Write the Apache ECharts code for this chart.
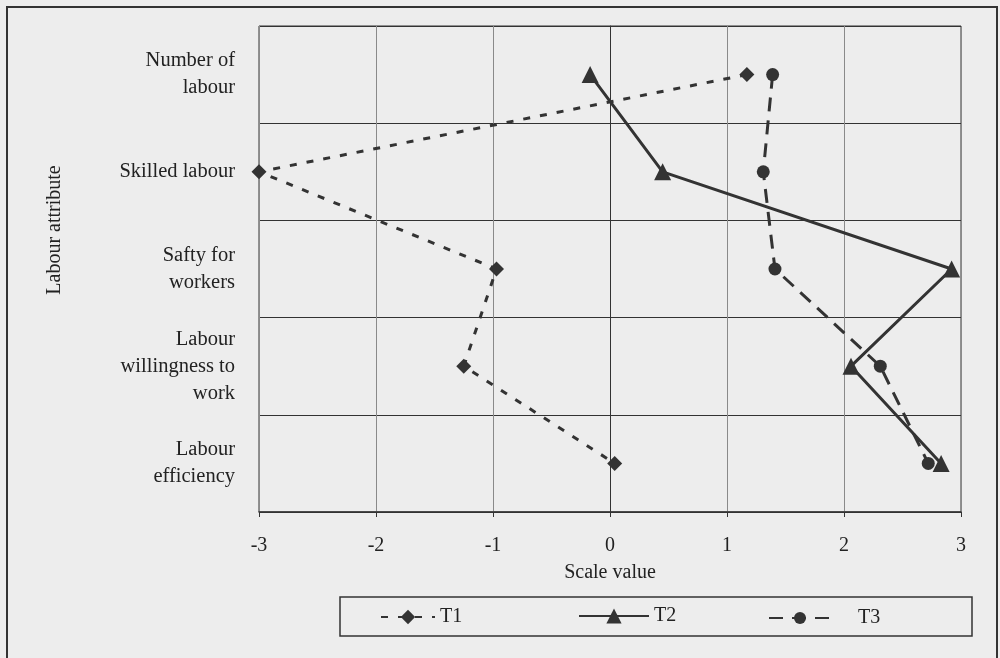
<!DOCTYPE html>
<html><head><meta charset="utf-8">
<script src="https://cdn.jsdelivr.net/npm/echarts@6/dist/echarts.min.js"></script>
<style>html,body{margin:0;padding:0;background:#ededed}#c{width:1000px;height:658px}</style>
</head><body><div id="c"></div>
<script>
const categories = ["Number of\nlabour", "Skilled labour", "Safty for\nworkers", "Labour\nwillingness to\nwork", "Labour\nefficiency"];
const t1 = [1.17, -3.0, -0.97, -1.25, 0.04];
const t2 = [-0.17, 0.45, 2.92, 2.06, 2.83];
const t3 = [1.39, 1.31, 1.41, 2.31, 2.72];
const seriesNames = ["T1", "T2", "T3"];
const xMin = -3, xMax = 3, xStep = 1;

const ink = '#333333';
const font = 'Liberation Serif';
const chart = echarts.init(document.getElementById('c'), null, {renderer: 'canvas'});
function mk(name, vals, symbol, size, type) {
  return {
    name: name, type: 'line', data: vals.map((v, i) => [v, categories[i]]),
    symbol: symbol, symbolSize: size,
    itemStyle: {color: ink},
    lineStyle: {color: ink, width: 3, type: type},
    z: 5
  };
}
const legendBase = {
  itemWidth: 60, padding: 0,
  textStyle: {fontFamily: font, fontSize: 20, color: '#222'}
};
chart.setOption({
  backgroundColor: '#ededed',
  animation: false,
  grid: {left: 259, right: 39, top: 26, bottom: 146, show: true, borderColor: ink, borderWidth: 1},
  xAxis: {
    type: 'value', min: xMin, max: xMax, interval: xStep,
    name: 'Scale value', nameLocation: 'middle', nameGap: 51,
    nameTextStyle: {fontFamily: font, fontSize: 20, color: '#222'},
    axisLine: {show: true, onZero: false, lineStyle: {color: ink, width: 1.5}},
    axisTick: {show: true, length: 5, lineStyle: {color: ink}},
    axisLabel: {fontFamily: font, fontSize: 20, color: '#222', margin: 24},
    splitLine: {show: true, lineStyle: {color: '#8a8a8a', width: 1}}
  },
  yAxis: {
    type: 'category', data: categories, inverse: true, boundaryGap: true,
    axisLine: {show: true, lineStyle: {color: ink, width: 1}},
    axisTick: {show: true, length: 4, lineStyle: {color: ink}},
    axisLabel: {fontFamily: font, fontSize: 20.5, color: '#222', margin: 24, lineHeight: 27, align: 'right'},
    splitLine: {show: true, lineStyle: {color: ink, width: 1}}
  },
  legend: [
    Object.assign({}, legendBase, {left: 380, top: 607, itemHeight: 18, data: ['T1'], itemWidth: 54}),
    Object.assign({}, legendBase, {left: 578, top: 606, itemHeight: 19, data: ['T2'], itemWidth: 70}),
    Object.assign({}, legendBase, {left: 768, top: 608, itemHeight: 15, data: ['T3'], itemWidth: 62,
      textStyle: {fontFamily: font, fontSize: 20, color: '#222', padding: [0, 0, 0, 22]}})
  ],
  graphic: [
    {type: 'rect', shape: {x: 7, y: 7, width: 990, height: 700}, style: {fill: 'none', stroke: ink, lineWidth: 2}, z: -1},
    {type: 'rect', shape: {x: 340, y: 597, width: 632, height: 39}, style: {fill: 'none', stroke: ink, lineWidth: 1.5}},
    {type: 'text', x: 55, y: 230, rotation: Math.PI / 2,
      style: {text: 'Labour attribute', font: '20px "Liberation Serif"', fill: '#222', align: 'center', verticalAlign: 'middle'}}
  ],
  series: [
    mk(seriesNames[0], t1, 'diamond', 15, [7, 10]),
    mk(seriesNames[1], t2, 'triangle', 17, 'solid'),
    mk(seriesNames[2], t3, 'circle', 13, [14, 9])
  ]
});
</script></body></html>
